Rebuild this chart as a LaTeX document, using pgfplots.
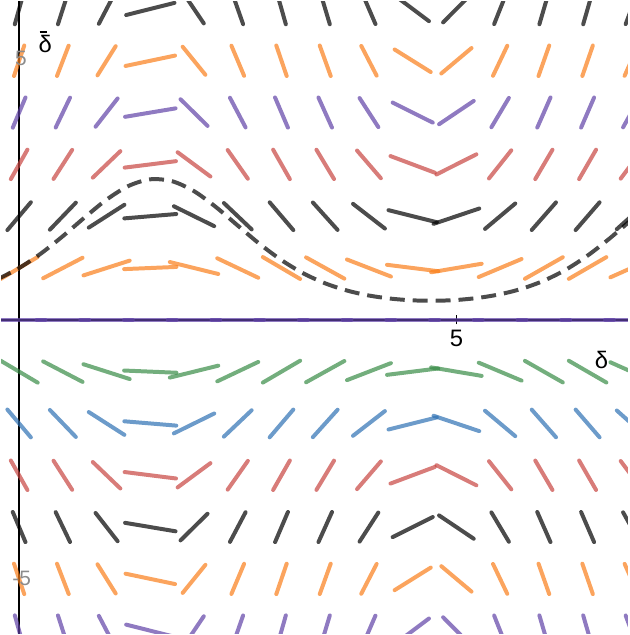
\documentclass[border=0pt]{standalone}
\usepackage{fontspec}
\setmainfont{Liberation Sans}
\usepackage{pgfplots}
\usepackage{pgfplotstable}
\pgfplotsset{compat=1.18}
\definecolor{dred}{HTML}{C74440}
\definecolor{dblue}{HTML}{2D70B3}
\definecolor{dgreen}{HTML}{388C46}
\definecolor{dpurple}{HTML}{6042A6}
\definecolor{dorange}{HTML}{FA7E19}
\definecolor{dblack}{HTML}{000000}

% slope of the field segment at each grid point, one column per row (y = 6 ... -6)
\pgfplotstableread{
x   s6     s5     s4     s3     s2     s1     s0  sm1    sm2    sm3    sm4    sm5    sm6
0.0 6      5      4      3      2      1      0   -1     -2     -3     -4     -5     -6
0.5 5.266  4.388  3.510  2.633  1.755  0.878  0   -0.878 -1.755 -2.633 -3.510 -4.388 -5.266
1.0 3.242  2.702  2.161  1.621  1.081  0.540  0   -0.540 -1.081 -1.621 -2.161 -2.702 -3.242
1.5 0.424  0.354  0.283  0.212  0.141  0.071  0   -0.071 -0.141 -0.212 -0.283 -0.354 -0.424
2.0 -2.497 -2.081 -1.664 -1.248 -0.832 -0.416 0   0.416  0.832  1.248  1.664  2.081  2.497
2.5 -4.807 -4.006 -3.204 -2.403 -1.602 -0.801 0   0.801  1.602  2.403  3.204  4.006  4.807
3.0 -5.940 -4.950 -3.960 -2.970 -1.980 -0.990 0   0.990  1.980  2.970  3.960  4.950  5.940
3.5 -5.619 -4.683 -3.746 -2.810 -1.873 -0.937 0   0.937  1.873  2.810  3.746  4.683  5.619
4.0 -3.922 -3.268 -2.614 -1.961 -1.307 -0.654 0   0.654  1.307  1.961  2.614  3.268  3.922
4.5 -1.265 -1.054 -0.843 -0.632 -0.422 -0.211 0   0.211  0.422  0.632  0.843  1.054  1.265
5.0 1.702  1.419  1.135  0.851  0.567  0.284  0   -0.284 -0.567 -0.851 -1.135 -1.419 -1.702
5.5 4.252  3.544  2.835  2.126  1.417  0.709  0   -0.709 -1.417 -2.126 -2.835 -3.544 -4.252
6.0 5.761  4.801  3.841  2.881  1.920  0.960  0   -0.960 -1.920 -2.881 -3.841 -4.801 -5.761
6.5 5.860  4.883  3.906  2.930  1.953  0.977  0   -0.977 -1.953 -2.930 -3.906 -4.883 -5.860
7.0 4.523  3.770  3.016  2.262  1.508  0.754  0   -0.754 -1.508 -2.262 -3.016 -3.770 -4.523
}\field

% solution curve
\pgfplotstableread{
x     y
-0.25 0.781
0.00  1.000
0.25  1.281
0.50  1.615
0.75  1.977
1.00  2.320
1.25  2.583
1.50  2.712
1.75  2.675
2.00  2.483
2.25  2.177
2.50  1.819
2.75  1.465
3.00  1.152
3.25  0.897
3.50  0.704
3.75  0.565
4.00  0.469
4.25  0.409
4.50  0.376
4.75  0.368
5.00  0.383
5.25  0.424
5.50  0.494
5.75  0.601
6.00  0.756
6.25  0.967
6.50  1.240
6.75  1.568
7.00  1.929
}\curve

% one row of segments, length 0.6, centred on the grid point
\newcommand\fieldrow[3]{%
\addplot[#3, line width=4bp, line cap=round, opacity=0.7, -,
  quiver={u={0.6/sqrt(1+(\thisrow{#2})*(\thisrow{#2}))},
          v={0.6*(\thisrow{#2})/sqrt(1+(\thisrow{#2})*(\thisrow{#2}))}}]
  table[x expr={\thisrow{x}-0.3/sqrt(1+(\thisrow{#2})*(\thisrow{#2}))},
        y expr={#1-0.3*(\thisrow{#2})/sqrt(1+(\thisrow{#2})*(\thisrow{#2}))}] {\field};}

\begin{document}
\begin{tikzpicture}
\begin{axis}[
    width=629bp, height=635bp, scale only axis,
    xmin=-0.205, xmax=6.96, ymin=-6.06, ymax=6.15,
    axis lines=middle,
    axis line style={-, black, line width=2.4bp},
    xtick={5}, xticklabels={},
    ytick=\empty,
    tick align=center, major tick length=9bp,
    tick style={black, line width=1.8bp},
    clip=true,
]
\fieldrow{6}{s6}{dblack}
\fieldrow{5}{s5}{dorange}
\fieldrow{4}{s4}{dpurple}
\fieldrow{3}{s3}{dred}
\fieldrow{2}{s2}{dblack}
\fieldrow{1}{s1}{dorange}
\fieldrow{0}{s0}{dpurple}
\fieldrow{-1}{sm1}{dgreen}
\fieldrow{-2}{sm2}{dblue}
\fieldrow{-3}{sm3}{dred}
\fieldrow{-4}{sm4}{dblack}
\fieldrow{-5}{sm5}{dorange}
\fieldrow{-6}{sm6}{dpurple}

\addplot[black, opacity=0.7, line width=4bp, smooth, dash pattern=on 15bp off 8bp]
  table[x=x, y=y] {\curve};

\node[font=\fontsize{24}{28}\selectfont] at (axis cs:5,-0.36) {5};
\node[font=\fontsize{24}{28}\selectfont] at (axis cs:6.66,-0.78) {δ};
\node[font=\fontsize{24}{28}\selectfont] at (axis cs:0.30,5.33)
  {\ooalign{δ\cr\kern1bp\raisebox{19bp}{\rule{7bp}{2.2bp}}\hfil\cr}};
\node[font=\fontsize{21}{24}\selectfont, text=black!45] at (axis cs:0.02,5.04) {5};
\node[font=\fontsize{21}{24}\selectfont, text=black!45] at (axis cs:0.03,-5.0) {-5};
\end{axis}
\end{tikzpicture}
\end{document}
